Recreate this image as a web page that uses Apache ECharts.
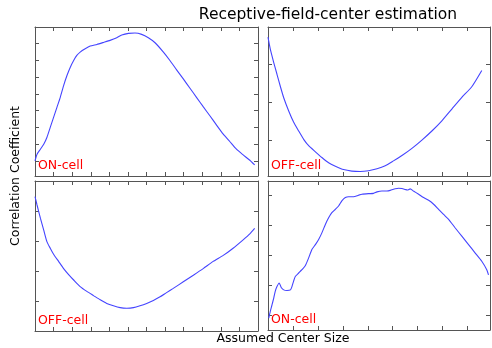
<!DOCTYPE html>
<html>
<head>
<meta charset="utf-8">
<script src="https://cdn.jsdelivr.net/npm/echarts@6/dist/echarts.min.js"></script>
<style>
  html, body { margin: 0; padding: 0; background: #fff; }
  #chart { width: 492px; height: 348px; }
</style>
</head>
<body>
<div id="chart"></div>
<script>
// Dados (tamanho do centro x coeficiente de correlacao)
const tlX = [0, 0.11, 0.29, 0.47, 0.64, 0.82, 1.0, 1.18, 1.36, 1.54, 1.72, 1.9, 2.08, 2.25, 2.43, 2.7, 2.97, 3.33, 3.69, 4.04, 4.4, 4.67, 5.03, 5.38, 5.74, 6.1, 6.46, 6.91, 7.26, 7.62, 7.98, 8.34, 8.69, 9.05, 9.41, 9.77, 10.13, 10.48, 10.84, 11.2, 11.56, 11.82];
const tlY = [0.150, 0.170, 0.185, 0.200, 0.220, 0.250, 0.280, 0.310, 0.340, 0.375, 0.405, 0.430, 0.450, 0.465, 0.475, 0.485, 0.493, 0.498, 0.504, 0.510, 0.518, 0.526, 0.531, 0.532, 0.528, 0.518, 0.503, 0.475, 0.450, 0.422, 0.395, 0.367, 0.340, 0.312, 0.285, 0.257, 0.230, 0.208, 0.185, 0.168, 0.152, 0.138];

const trX = [0, 0.09, 0.23, 0.36, 0.49, 0.63, 0.83, 1.03, 1.23, 1.43, 1.63, 1.9, 2.16, 2.43, 2.7, 3.03, 3.36, 3.7, 4.03, 4.37, 4.7, 5.03, 5.37, 5.77, 6.17, 6.57, 6.97, 7.37, 7.77, 8.17, 8.57];
const trY = [0.472, 0.441, 0.405, 0.374, 0.343, 0.312, 0.277, 0.247, 0.224, 0.202, 0.185, 0.169, 0.154, 0.140, 0.131, 0.122, 0.118, 0.117, 0.119, 0.124, 0.132, 0.145, 0.159, 0.178, 0.200, 0.224, 0.251, 0.282, 0.313, 0.341, 0.384];

const blX = [0, 0.11, 0.29, 0.47, 0.64, 0.82, 1.0, 1.27, 1.54, 1.81, 2.08, 2.43, 2.79, 3.15, 3.51, 3.86, 4.22, 4.58, 4.94, 5.3, 5.65, 6.01, 6.37, 6.73, 7.08, 7.44, 7.98, 8.52, 9.05, 9.59, 10.13, 10.66, 11.2, 11.56, 11.82];
const blY = [0.325, 0.311, 0.289, 0.269, 0.250, 0.239, 0.229, 0.217, 0.205, 0.195, 0.186, 0.175, 0.167, 0.160, 0.153, 0.147, 0.143, 0.140, 0.139, 0.140, 0.143, 0.147, 0.152, 0.158, 0.165, 0.172, 0.183, 0.194, 0.205, 0.217, 0.227, 0.239, 0.253, 0.263, 0.272];

const brX = [0.03, 0.09, 0.16, 0.23, 0.29, 0.36, 0.45, 0.53, 0.63, 0.76, 0.9, 0.96, 1.03, 1.1, 1.23, 1.36, 1.5, 1.63, 1.76, 1.9, 2.03, 2.16, 2.3, 2.43, 2.56, 2.7, 2.83, 2.96, 3.1, 3.23, 3.43, 3.63, 3.77, 4.03, 4.23, 4.37, 4.57, 4.77, 4.9, 5.1, 5.23, 5.37, 5.5, 5.59, 5.7, 5.83, 6.04, 6.24, 6.44, 6.64, 6.84, 7.04, 7.24, 7.5, 7.77, 8.04, 8.3, 8.57, 8.77, 8.84];
const brY = [0.091, 0.113, 0.135, 0.158, 0.180, 0.196, 0.208, 0.193, 0.185, 0.183, 0.185, 0.196, 0.215, 0.230, 0.241, 0.252, 0.266, 0.291, 0.319, 0.335, 0.352, 0.374, 0.402, 0.424, 0.441, 0.452, 0.463, 0.480, 0.491, 0.494, 0.494, 0.499, 0.502, 0.504, 0.505, 0.510, 0.513, 0.513, 0.515, 0.520, 0.522, 0.521, 0.518, 0.516, 0.520, 0.513, 0.502, 0.491, 0.482, 0.469, 0.452, 0.435, 0.419, 0.391, 0.363, 0.335, 0.308, 0.280, 0.252, 0.235];

// Marcas dos eixos
const xTicksLeft = [1, 2, 3, 4, 5, 6, 7, 8, 9, 10, 11];
const xTicksRight = [1, 2, 3, 4, 5, 6, 7, 8];
const tlYTicks = [0.15, 0.20, 0.25, 0.30, 0.35, 0.40, 0.45, 0.50];
const trYTicks = [0.2, 0.3, 0.4];
const blYTicks = [0.15, 0.20, 0.25, 0.30];
const brYTicks = [0.1, 0.2, 0.3, 0.4, 0.5];

const cellNames = ['ON-cell', 'OFF-cell', 'OFF-cell', 'ON-cell'];

const panels = [
  { grid: { left: 35, top: 27, width: 223, height: 149 }, x: tlX, y: tlY, xr: [0, 12], yr: [0.105, 0.55], xt: xTicksLeft, yt: tlYTicks },
  { grid: { left: 268, top: 27, width: 222, height: 149 }, x: trX, y: trY, xr: [0, 8.9], yr: [0.105, 0.499], xt: xTicksRight, yt: trYTicks },
  { grid: { left: 35, top: 181, width: 223, height: 150 }, x: blX, y: blY, xr: [0, 12], yr: [0.101, 0.351], xt: xTicksLeft, yt: blYTicks },
  { grid: { left: 268, top: 181, width: 222, height: 149 }, x: brX, y: brY, xr: [0, 8.9], yr: [0.052, 0.546], xt: xTicksRight, yt: brYTicks }
];

function axis(pos, gridIndex, range, ticks) {
  return {
    type: 'value', gridIndex, position: pos, min: range[0], max: range[1],
    axisLine: { show: true, onZero: false, lineStyle: { color: '#555', width: 1 } },
    axisTick: { show: true, inside: true, length: 4, customValues: ticks, lineStyle: { color: '#555', width: 1 } },
    axisLabel: { show: false },
    splitLine: { show: false }
  };
}

const grids = [], xAxes = [], yAxes = [], series = [], texts = [];
panels.forEach((p, i) => {
  grids.push(p.grid);
  xAxes.push(axis('bottom', i, p.xr, p.xt), axis('top', i, p.xr, p.xt));
  yAxes.push(axis('left', i, p.yr, p.yt), axis('right', i, p.yr, p.yt));
  series.push({
    type: 'line', xAxisIndex: 2 * i, yAxisIndex: 2 * i,
    data: p.x.map((v, k) => [v, p.y[k]]),
    showSymbol: false, smooth: 0.2,
    lineStyle: { color: '#4444ff', width: 1.1 }, silent: true
  });
  texts.push({
    type: 'text', x: p.grid.left + 3, y: p.grid.top + p.grid.height - 4,
    style: { text: cellNames[i], fill: '#ff0000', font: '12.5px "DejaVu Sans"', align: 'left', verticalAlign: 'bottom' }
  });
});

const font = '"DejaVu Sans"';
texts.push(
  { type: 'text', x: 328, y: 15, style: { text: 'Receptive-field-center estimation', fill: '#000', font: '15.5px ' + font, align: 'center', verticalAlign: 'middle' } },
  { type: 'text', x: 283, y: 339, style: { text: 'Assumed Center Size', fill: '#000', font: '12.5px ' + font, align: 'center', verticalAlign: 'middle' } },
  { type: 'text', x: 16, y: 176, rotation: Math.PI / 2, style: { text: 'Correlation Coefficient', fill: '#000', font: '12.5px ' + font, align: 'center', verticalAlign: 'middle' } }
);

const chart = echarts.init(document.getElementById('chart'), null, { renderer: 'canvas' });
chart.setOption({
  animation: false,
  backgroundColor: '#fff',
  grid: grids,
  xAxis: xAxes,
  yAxis: yAxes,
  series: series,
  graphic: texts
});
</script>
</body>
</html>
